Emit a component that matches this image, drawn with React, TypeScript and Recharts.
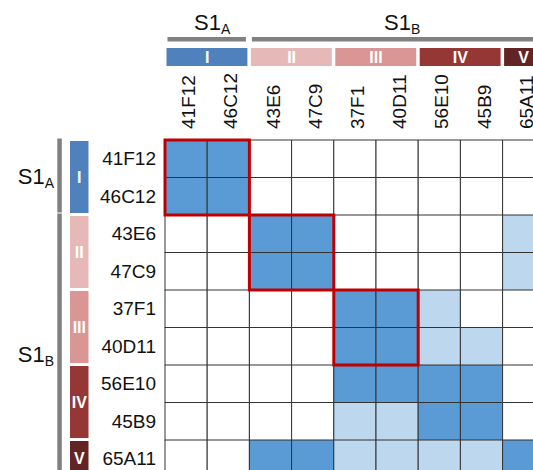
import { BarChart, Bar, Cell, XAxis, YAxis, ReferenceArea } from "recharts";

const FONT = '"Liberation Sans", Arial, sans-serif';

const columns = ["41F12", "46C12", "43E6", "47C9", "37F1", "40D11", "56E10", "45B9", "65A11"];
const rows = ["41F12", "46C12", "43E6", "47C9", "37F1", "40D11", "56E10", "45B9", "65A11"];

// 0 = no overlap, 1 = partial, 2 = full
const row41F12 = [2, 2, 0, 0, 0, 0, 0, 0, 0];
const row46C12 = [2, 2, 0, 0, 0, 0, 0, 0, 0];
const row43E6 = [0, 0, 2, 2, 0, 0, 0, 0, 1];
const row47C9 = [0, 0, 2, 2, 0, 0, 0, 0, 1];
const row37F1 = [0, 0, 0, 0, 2, 2, 1, 0, 0];
const row40D11 = [0, 0, 0, 0, 2, 2, 1, 1, 0];
const row56E10 = [0, 0, 0, 0, 2, 2, 2, 2, 0];
const row45B9 = [0, 0, 0, 0, 1, 1, 2, 2, 0];
const row65A11 = [0, 0, 2, 2, 1, 1, 1, 1, 2];
const levelRows = [row41F12, row46C12, row43E6, row47C9, row37F1, row40D11, row56E10, row45B9, row65A11];

const levelColors = ["#ffffff", "#bdd7ee", "#5b9bd5"];

const clusterNames = ["I", "II", "III", "IV", "V"];
const clusterSizes = [2, 2, 2, 2, 1];
const clusterColors = ["#4f81bd", "#e6b9b8", "#d99694", "#953735", "#632523"];

const groupSubs = ["A", "B"];
const groupSizes = [2, 7];

// red boxes: first index of each 2x2 block
const boxStarts = [0, 2, 4];

const PLOT_LEFT = 165;
const PLOT_TOP = 140;
const CELL_W = 42.2;
const CELL_H = 37.5;
const CHART_W = 560;
const CHART_H = 500;

const data = rows.map((r) => {
  const d: Record<string, string | number> = { row: r };
  columns.forEach((_, j) => (d[`c${j}`] = 1));
  return d;
});

function spans(sizes: number[]) {
  let s = 0;
  return sizes.map((n) => {
    const out = { start: s, end: s + n };
    s += n;
    return out;
  });
}

const ColumnTick = ({ x, payload }: any) => {
  const tx = x + 9;
  const ty = 129;
  return (
    <text x={tx} y={ty} transform={`rotate(-90 ${tx} ${ty})`} textAnchor="start" fontSize={19} fontFamily={FONT} fill="#111">
      {columns[Math.floor(payload.value)]}
    </text>
  );
};

function Annotations() {
  const groups = spans(groupSizes);
  const clusters = spans(clusterSizes);
  const colX = (i: number) => PLOT_LEFT + i * CELL_W;
  const rowY = (i: number) => PLOT_TOP + i * CELL_H;
  return (
    <svg width={CHART_W} height={CHART_H} style={{ position: "absolute", left: 0, top: 0, pointerEvents: "none" }} fontFamily={FONT}>
      {groups.map((g, k) => {
        const x0 = colX(g.start);
        const x1 = colX(g.end);
        const y0 = rowY(g.start);
        const y1 = rowY(g.end);
        const topCx = (x0 + x1) / 2 + 5;
        const leftCy = k === 0 ? (y0 + y1) / 2 + 6.5 : 362;
        return (
          <g key={k}>
            <text x={topCx} y={30} textAnchor="middle" fontSize={22} fill="#111">
              S1<tspan fontSize={14} dy={4}>{groupSubs[k]}</tspan>
            </text>
            <rect x={x0 + 2.5} y={37} width={x1 - x0 - 6} height={4.5} fill="#808080" />
            <text x={54} y={leftCy} textAnchor="end" fontSize={22} fill="#111">
              S1<tspan fontSize={14} dy={4}>{groupSubs[k]}</tspan>
            </text>
            <rect x={57.3} y={y0 - 1.5} width={4.5} height={y1 - y0 - 1} fill="#808080" />
          </g>
        );
      })}
      {clusters.map((c, k) => {
        const x0 = colX(c.start);
        const x1 = colX(c.end);
        const y0 = rowY(c.start);
        const y1 = rowY(c.end);
        return (
          <g key={k}>
            <rect x={x0 + 1.5} y={48} width={x1 - x0 - 3.5} height={18} fill={clusterColors[k]} />
            <text x={(x0 + x1) / 2} y={62.5} textAnchor="middle" fontSize={16} fontWeight="bold" fill="#fff">
              {clusterNames[k]}
            </text>
            <rect x={70} y={y0 + 1} width={18.5} height={y1 - y0 - 3} fill={clusterColors[k]} />
            <text x={79.3} y={(y0 + y1) / 2 + 5.5} textAnchor="middle" fontSize={16} fontWeight="bold" fill="#fff">
              {clusterNames[k]}
            </text>
          </g>
        );
      })}
    </svg>
  );
}

export default function App() {
  return (
    <div style={{ position: "absolute", left: 0, top: 0, width: 533, height: 470, overflow: "hidden", background: "#fff" }}>
      <BarChart
        width={CHART_W}
        height={CHART_H}
        data={data}
        layout="vertical"
        barCategoryGap={0}
        barGap={0}
        margin={{ top: 60, left: 65, right: CHART_W - PLOT_LEFT - columns.length * CELL_W, bottom: CHART_H - PLOT_TOP - rows.length * CELL_H }}
      >
        <XAxis
          type="number"
          orientation="top"
          domain={[0, columns.length]}
          ticks={columns.map((_, j) => j + 0.5)}
          height={80}
          axisLine={false}
          tickLine={false}
          interval={0}
          tick={<ColumnTick />}
        />
        <YAxis
          type="category"
          dataKey="row"
          width={100}
          axisLine={false}
          tickLine={false}
          tickMargin={3}
          interval={0}
          tick={{ fill: "#111", fontSize: 19, fontFamily: FONT }}
        />
        {columns.map((c, j) => (
          <Bar key={c} dataKey={`c${j}`} stackId="m" isAnimationActive={false} stroke="#333" strokeWidth={1}>
            {rows.map((r, i) => (
              <Cell key={r} fill={levelColors[levelRows[i][j]]} />
            ))}
          </Bar>
        ))}
        {boxStarts.map((s) => (
          <ReferenceArea
            key={s}
            x1={s}
            x2={s + 2}
            y1={rows[s]}
            y2={rows[s + 1]}
            fill="none"
            fillOpacity={0}
            stroke="#c00000"
            strokeWidth={3}
            ifOverflow="visible"
            zIndex={1500}
          />
        ))}
      </BarChart>
      <Annotations />
    </div>
  );
}
